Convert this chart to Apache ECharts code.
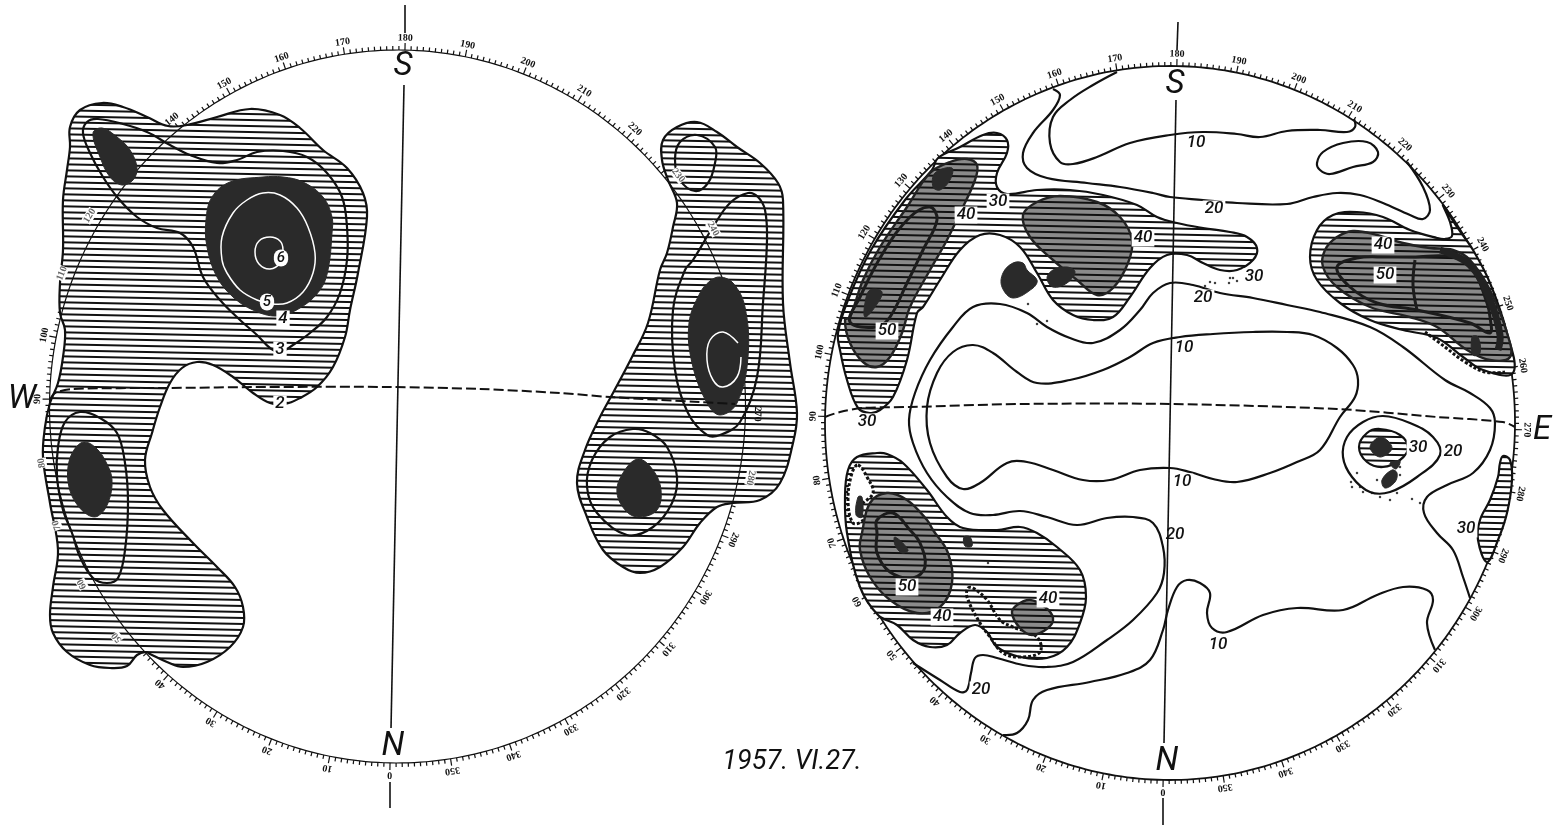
<!DOCTYPE html>
<html>
<head>
<meta charset="utf-8">
<title>1957. VI.27.</title>
<style>
  html, body { margin: 0; padding: 0; background: #fff; }
  #chart { width: 1562px; height: 826px; }
</style>
<script src="https://cdn.jsdelivr.net/npm/echarts@6/dist/echarts.min.js"></script>
</head>
<body>
<div id="chart"></div>
<script>

// left disc
const leftOuter = [[70,127],[80,110],[102,103],[123,107],[147,117],[168,126],[187,125],[217,117],[250,109],[280,115],[300,128],[323,150],[347,168],[363,193],[367,217],[358,273],[350,310],[345,337],[333,367],[317,387],[300,398],[285,404],[270,403],[253,393],[233,377],[213,365],[197,362],[182,368],[170,383],[160,407],[152,433],[145,460],[150,487],[163,510],[193,543],[217,567],[235,587],[243,607],[243,627],[230,647],[207,662],[183,667],[167,662],[150,654],[146,652],[137,655],[127,666],[110,668],[90,665],[67,652],[53,633],[50,615],[53,587],[58,550],[50,503],[43,457],[45,427],[50,403],[58,383],[63,357],[65,330],[60,313],[60,283],[63,250],[63,200],[67,170],[70,147]];
const leftLevel3 = [[87,122],[98,119],[123,124],[147,132],[170,145],[190,155],[217,163],[237,160],[257,152],[283,151],[307,157],[327,173],[342,197],[347,227],[347,260],[340,293],[327,317],[310,333],[293,345],[280,352],[270,348],[257,335],[240,320],[220,300],[203,277],[193,247],[180,233],[157,228],[137,217],[118,198],[103,177],[90,153],[83,133]];
const leftBlobTop = [[93,133],[102,128],[117,137],[130,150],[137,168],[133,180],[122,185],[110,177],[100,157]];
const leftBlobMain = [[263,177],[230,182],[212,197],[206,220],[207,247],[217,277],[233,297],[253,310],[277,316],[300,308],[320,290],[328,270],[332,233],[332,217],[323,197],[303,182],[283,177]];
const leftLevel5 = [[263,193],[247,200],[233,213],[222,237],[222,260],[227,273],[240,290],[257,300],[272,304],[287,303],[303,292],[313,273],[315,253],[308,227],[297,208],[280,195]];
const leftLevel6 = [[270,237],[259,241],[255,252],[259,264],[270,269],[280,263],[283,250],[280,241]];
const leftLowOval = [[80,412],[65,422],[58,447],[57,477],[63,510],[72,533],[80,557],[93,578],[107,583],[118,578],[125,550],[128,503],[125,463],[117,433],[100,418]];
const leftLowBlob = [[84,442],[74,450],[68,467],[69,487],[76,503],[88,515],[98,516],[108,503],[112,480],[106,462],[96,448]];
const rightOuter = [[697,122],[677,127],[663,140],[662,160],[668,180],[677,203],[673,227],[667,253],[660,270],[648,323],[632,357],[613,393],[600,417],[585,450],[577,483],[587,517],[603,550],[623,567],[640,573],[660,567],[683,547],[700,523],[717,507],[733,503],[760,500],[780,483],[793,443],[797,413],[790,363],[783,303],[783,200],[778,183],[760,163],[737,147],[717,132]];
const rightSmallOval = [[697,135],[680,142],[675,160],[680,180],[695,191],[708,183],[715,163],[715,147]];
const rightBigOval = [[748,193],[730,203],[713,227],[693,260],[685,270],[673,310],[675,370],[688,413],[707,435],[720,435],[740,422],[757,377],[763,303],[767,240],[765,210],[758,197]];
const rightBlob = [[720,277],[710,281],[700,293],[689,323],[692,363],[707,403],[720,415],[737,403],[748,357],[745,307],[733,283]];
const rightWhite = [[738,343],[723,332],[710,340],[707,360],[713,380],[723,387],[737,377],[741,357]];
const rightRing = [[633,429],[610,437],[592,460],[587,487],[597,513],[627,535],[653,527],[672,503],[677,477],[667,447],[650,433]];
const rightRingBlob = [[638,459],[623,473],[617,493],[627,512],[640,517],[657,510],[661,490],[653,470]];
const leftEquator = [[50,400],[55,393],[73,389],[167,388],[267,387],[390,387],[480,389],[560,393],[610,397],[700,402],[735,404]];

// right disc
const northBand = [[938,158],[960,147],[983,135],[997,133],[1007,140],[1007,153],[997,173],[997,187],[1007,194],[1037,190],[1070,190],[1103,195],[1137,205],[1157,217],[1177,223],[1203,228],[1230,232],[1247,237],[1257,248],[1253,260],[1237,270],[1220,270],[1203,263],[1187,255],[1167,255],[1150,268],[1130,297],[1113,317],[1093,320],[1073,315],[1053,300],[1037,273],[1020,247],[1000,235],[980,235],[960,250],[940,280],[923,307],[917,313],[907,360],[893,397],[880,410],[870,413],[858,408],[847,380],[840,350],[838,333],[848,300],[871,250],[905,200],[932,170]];
const limbGray = [[967,159],[977,165],[975,180],[960,213],[947,240],[930,270],[910,307],[902,333],[890,357],[877,367],[863,362],[850,343],[845,320],[850,317],[863,280],[880,247],[907,207],[930,173],[950,162]];
const limbInner = [[850,322],[860,297],[883,253],[910,217],[930,207],[937,220],[923,250],[907,283],[890,317],[877,327]];
const limbSpotA = [[935,173],[952,168],[950,180],[940,190],[933,187]];
const limbSpotB = [[870,290],[882,292],[875,307],[865,317],[865,303]];
const centreGray = [[1060,196],[1037,202],[1023,215],[1030,237],[1053,260],[1077,280],[1097,295],[1113,288],[1128,263],[1132,240],[1120,217],[1097,202]];
const spotA = [[1013,263],[1003,273],[1002,287],[1013,298],[1033,288],[1037,280],[1027,270],[1023,263]];
const spotB = [[1053,270],[1067,267],[1075,272],[1067,283],[1053,287],[1047,278]];
const topLine20 = [[1053,89],[1060,95],[1053,110],[1033,133],[1023,153],[1027,168],[1047,178],[1087,183],[1120,187],[1153,193],[1170,197],[1203,200],[1237,203],[1287,204],[1313,197],[1337,193],[1360,195],[1383,203],[1410,215],[1423,219],[1430,210],[1423,187],[1407,162]];
const topLine10 = [[1117,72],[1093,85],[1070,100],[1053,117],[1050,143],[1060,162],[1073,164],[1097,157],[1130,143],[1170,135],[1203,132],[1237,134],[1260,137],[1287,131],[1320,130],[1347,132],[1355,127],[1354,119]];
const topOval = [[1317,163],[1323,152],[1343,143],[1367,142],[1378,152],[1373,162],[1353,167],[1330,174],[1320,170]];
const mainLine20 = [[1470,598],[1463,577],[1453,550],[1437,533],[1424,513],[1427,497],[1447,485],[1473,473],[1490,450],[1495,423],[1490,408],[1470,393],[1445,380],[1403,347],[1370,327],[1320,312],[1287,305],[1253,298],[1220,293],[1193,285],[1170,283],[1153,293],[1140,310],[1120,330],[1093,343],[1070,338],[1047,327],[1027,313],[1000,304],[973,307],[953,327],[930,360],[915,393],[909,420],[913,443],[927,473],[947,497],[970,513],[993,515],[1020,511],[1047,517],[1077,525],[1107,518],[1133,517],[1153,523],[1163,547],[1164,573],[1157,593],[1133,620],[1107,640],[1073,662],[1047,667],[1023,665],[997,658],[983,655],[975,658],[971,673],[967,690],[960,692],[940,680],[913,663]];
const lowLine = [[1435,650],[1427,623],[1433,600],[1427,590],[1403,587],[1377,595],[1343,610],[1297,608],[1263,615],[1227,632],[1212,628],[1207,613],[1210,593],[1200,583],[1187,580],[1177,587],[1168,610],[1163,630],[1150,660],[1127,673],[1090,682],[1047,690],[1033,700],[1028,720],[1017,733],[1003,735]];
const centreLine10 = [[1180,337],[1153,343],[1130,357],[1103,370],[1070,380],[1037,383],[1017,372],[993,353],[973,345],[953,352],[937,373],[927,407],[930,443],[947,477],[963,489],[980,483],[1007,463],[1027,462],[1053,470],[1083,480],[1110,480],[1140,470],[1170,468],[1190,472],[1213,479],[1237,482],[1270,473],[1297,462],[1320,450],[1340,417],[1355,397],[1358,380],[1353,365],[1337,348],[1313,335],[1287,332],[1253,332],[1213,334]];
const eastRing = [[1383,416],[1363,422],[1347,437],[1343,457],[1352,477],[1370,492],[1390,492],[1417,477],[1440,455],[1433,437],[1410,423]];
const eastHatch = [[1380,429],[1367,433],[1359,447],[1367,462],[1383,467],[1400,460],[1408,448],[1400,435]];
const eastGray = [[1381,437],[1370,447],[1380,457],[1392,448]];
const eastSpot = [[1392,470],[1382,480],[1385,488],[1395,482],[1397,473]];
const eastSpotSmall = [[1390,463],[1400,461],[1396,469]];
const eastBand = [[1357,212],[1333,215],[1317,230],[1310,257],[1317,280],[1340,303],[1370,320],[1403,330],[1437,338],[1463,357],[1483,370],[1513,373],[1507,333],[1490,283],[1473,250],[1457,227],[1443,205],[1450,222],[1452,236],[1445,239],[1437,238],[1410,230],[1383,217]];
const eastGrayBand = [[1353,231],[1337,237],[1325,250],[1323,267],[1337,287],[1370,307],[1410,317],[1437,327],[1467,350],[1490,360],[1510,357],[1507,333],[1490,290],[1470,260],[1453,250],[1430,248],[1403,243],[1377,235]];
const eastLevel50 = [[1490,333],[1470,323],[1417,310],[1377,303],[1350,287],[1337,267],[1357,258],[1387,257],[1413,257],[1453,257],[1473,270],[1487,303],[1490,317]];
const eastDivide = [[1415,260],[1413,285],[1417,310]];
const eastEdge = [[1440,250],[1470,265],[1490,300],[1500,335],[1498,350]];
const eastFringe = [[1425,332],[1445,347],[1465,362],[1485,372],[1505,372]];
const eastLimbSpot = [[1472,337],[1478,337],[1480,353],[1473,355]];
const limbSliver = [[1503,456],[1500,463],[1498,477],[1490,500],[1480,520],[1478,540],[1487,562],[1498,540],[1507,513],[1512,480],[1510,460]];
const southRegion = [[877,453],[857,457],[848,470],[845,497],[847,533],[860,587],[878,615],[897,625],[913,640],[930,647],[947,645],[960,633],[975,625],[987,632],[997,647],[1020,657],[1047,658],[1067,647],[1080,623],[1086,597],[1080,570],[1057,547],[1037,533],[1020,527],[997,530],[963,528],[947,517],[927,490],[903,463],[887,454]];
const southPatch = [[858,465],[867,477],[873,493],[860,507],[863,520],[853,523],[848,500],[852,473]];
const southPatchSpot = [[858,497],[862,497],[862,517],[856,515]];
const southGray = [[887,493],[870,503],[862,533],[860,550],[870,577],[890,600],[917,613],[940,607],[952,583],[948,553],[933,530],[927,520],[907,500]];
const southInner = [[877,533],[877,553],[890,572],[913,578],[925,567],[920,543],[910,530],[893,513],[877,520]];
const southSpot = [[895,537],[908,550],[902,553],[895,545]];
const southDot = [[964,537],[970,537],[972,546],[965,546]];
const southStrip = [[968,588],[973,588],[987,600],[1000,620],[1013,627],[1037,637],[1040,652],[1020,657],[1003,653],[990,637],[980,623],[967,597]];
const southSmallGray = [[1030,600],[1017,605],[1012,613],[1020,628],[1032,635],[1048,628],[1053,618],[1045,607]];
const rightEquator = [[825,417],[840,412],[863,408],[910,407],[1020,404],[1170,404],[1337,409],[1437,417],[1503,422],[1515,427]];
const speckles = [[1357,473],[1351,482],[1352,487],[1360,487],[1363,492],[1372,493],[1380,497],[1390,500],[1397,493],[1377,480],[1400,475],[1412,499],[1420,503],[1400,467],[1205,286],[1210,282],[1215,283],[1230,278],[1233,278],[1237,281],[1229,283],[1028,304],[1047,321],[1037,324],[988,563]];

// meridian pieces
const leftMeridian = [[[405,5],[405,33]],[[404,85],[391,728]],[[390,782],[390,808]]];
const rightMeridian = [[[1178,22],[1177,50]],[[1176,100],[1164,743]],[[1163,798],[1163,825]]];

// rim scale
const rimLabels = [0,10,20,30,40,50,60,70,80,90,100,110,120,130,140,150,160,170,180,190,200,210,220,230,240,250,260,270,280,290,300,310,320,330,340,350];
const leftFaintLabels = [50,60,70,80,110,120,230,240,280];
const leftNoLabels = [130,250,260];
const rimDegrees = [];
for (let d = 0; d < 360; d++) rimDegrees.push(d);

// hand lettering
const compassLabels = [[403,67,'S'],[393,747,'N'],[22,400,'W'],[1175,85,'S'],[1167,762,'N'],[1542,431,'E']];
const leftLevelLabels = [[280,404,'2'],[280,350,'3'],[283,319,'4']];
const leftWhiteLabels = [[267,302,'5'],[281,258,'6']];
const rightLevelLabels = [[1196,143,'10'],[1214,209,'20'],[998,202,'30'],[966,215,'40'],[1143,238,'40'],[1254,277,'30'],[1203,298,'20'],[1184,348,'10'],[1383,245,'40'],[1385,275,'50'],[887,331,'50'],[867,422,'30'],[1182,482,'10'],[1175,535,'20'],[1418,448,'30'],[1453,452,'20'],[1466,529,'30'],[1218,645,'10'],[1048,599,'40'],[907,587,'50'],[942,617,'40'],[981,690,'20']];
const dateLabel = [[792,762,'1957. VI.27.']];

const leftDisc = { cx: 397.5, cy: 406.5, rx: 348, ry: 356.5, tilt: 1.2 };
const rightDisc = { cx: 1170, cy: 423, rx: 345, ry: 357, tilt: 1.1 };

function stripes(h, line, lineH) {
    let c = document.createElement('canvas');
    c.width = 64; c.height = h;
    let g = c.getContext('2d');
    g.fillStyle = line; g.fillRect(0, 0, 64, lineH);
    return { image: c, repeat: 'repeat', rotation: 0.02 };
}
const hatch = stripes(6, '#111', 2);

const INK = '#111';
const DARK = '#2a2a2a';
const kinds = {
    ground: { fill: '#fff', stroke: null, lineWidth: 0 },
    hatchLines: { fill: hatch, stroke: INK, lineWidth: 2.2 },
    gray: { fill: '#8a8a8a', stroke: null, lineWidth: 0 },
    grayLines: { fill: hatch, stroke: '#222', lineWidth: 2.4 },
    dark: { fill: DARK, stroke: DARK, lineWidth: 1 },
    line: { fill: null, stroke: INK, lineWidth: 2.2 },
    thick: { fill: null, stroke: '#1c1c1c', lineWidth: 3 },
    edge: { fill: null, stroke: '#222', lineWidth: 7 },
    whiteLine: { fill: null, stroke: '#fff', lineWidth: 1.5 },
    scallop: { fill: null, stroke: INK, lineWidth: 3, lineDash: [3, 2] },
    patch: { fill: '#fff', stroke: INK, lineWidth: 3, lineDash: [3, 2] },
    dash: { fill: null, stroke: INK, lineWidth: 2, lineDash: [10, 4], smooth: 0.3 }
};

function shape(points, kind, open) {
    return {
        type: 'custom', coordinateSystem: 'cartesian2d', clip: false, silent: true,
        data: points,
        renderItem: function (params, api) {
            if (params.dataIndex !== 0) return null;
            let style = Object.assign({}, kinds[kind]);
            let smooth = style.smooth === undefined ? 0.38 : style.smooth;
            delete style.smooth;
            return {
                type: open ? 'polyline' : 'polygon',
                shape: { points: points.map(function (p) { return api.coord(p); }), smooth: smooth },
                style: style
            };
        }
    };
}

// two layers: a ground, then the stripes on top of it
function hatched(points) { return [shape(points, 'ground'), shape(points, 'hatchLines')]; }
function shaded(points) { return [shape(points, 'gray'), shape(points, 'grayLines')]; }

function rimPoint(disc, deg, out) {
    let a = deg * Math.PI / 180, t = disc.tilt * Math.PI / 180;
    let u = -Math.sin(a) * (disc.rx + out), v = Math.cos(a) * (disc.ry + out);
    return [disc.cx + u * Math.cos(t) - v * Math.sin(t), disc.cy + u * Math.sin(t) + v * Math.cos(t)];
}

function rimTicks(disc) {
    return {
        type: 'custom', coordinateSystem: 'cartesian2d', clip: false, silent: true,
        data: rimDegrees.map(function (d) { return [disc.cx, disc.cy, d]; }),
        renderItem: function (params, api) {
            let d = api.value(2);
            let a = api.coord(rimPoint(disc, d, 0));
            let b = api.coord(rimPoint(disc, d, d % 10 === 0 ? 7 : 4));
            return { type: 'line', shape: { x1: a[0], y1: a[1], x2: b[0], y2: b[1] }, style: { stroke: INK, lineWidth: 1.2 } };
        }
    };
}

function rimLine(disc, width) {
    let pts = rimDegrees.map(function (d) { return rimPoint(disc, d, 0); });
    return {
        type: 'custom', coordinateSystem: 'cartesian2d', clip: false, silent: true,
        data: pts,
        renderItem: function (params, api) {
            if (params.dataIndex !== 0) return null;
            return {
                type: 'polygon',
                shape: { points: pts.map(function (p) { return api.coord(p); }) },
                style: { fill: null, stroke: INK, lineWidth: width }
            };
        }
    };
}

function rimText(disc, faint, skip) {
    let shown = rimLabels.filter(function (d) { return skip.indexOf(d) < 0; });
    return {
        type: 'custom', coordinateSystem: 'cartesian2d', clip: false, silent: true,
        data: shown.map(function (d) { return [disc.cx, disc.cy, d]; }),
        renderItem: function (params, api) {
            let d = api.value(2);
            let p = api.coord(rimPoint(disc, d, 12));
            let isFaint = faint.indexOf(d) >= 0;
            return {
                type: 'text', x: p[0], y: p[1],
                rotation: -(d - 180 + disc.tilt) * Math.PI / 180,
                style: {
                    text: String(d), font: 'bold 10px "Liberation Serif"',
                    fill: isFaint ? '#666' : '#111', align: 'center', verticalAlign: 'middle',
                    backgroundColor: isFaint ? '#fff' : 'transparent'
                }
            };
        }
    };
}

function letters(rows, font, fill, back, padding, radius) {
    return {
        type: 'custom', coordinateSystem: 'cartesian2d', clip: false, silent: true,
        data: rows,
        renderItem: function (params, api) {
            let row = rows[params.dataIndex];
            let p = api.coord([row[0], row[1]]);
            return {
                type: 'text', x: p[0], y: p[1],
                style: {
                    text: row[2], font: font, fill: fill, align: 'center', verticalAlign: 'middle',
                    backgroundColor: back, padding: padding, borderRadius: radius || 0
                }
            };
        }
    };
}

let seriesData = [
    rimTicks(leftDisc),
    rimTicks(rightDisc),
    ...hatched(leftOuter),
    ...hatched(rightOuter),
    rimLine(leftDisc, 1.2),
    rimLine(rightDisc, 1.8),
    shape(leftLevel3, 'line'),
    shape(leftBlobTop, 'dark'),
    shape(leftBlobMain, 'dark'),
    shape(leftLevel5, 'whiteLine'),
    shape(leftLevel6, 'whiteLine'),
    shape(leftLowOval, 'line'),
    shape(leftLowBlob, 'dark'),
    shape(rightSmallOval, 'line'),
    shape(rightBigOval, 'line'),
    shape(rightBlob, 'dark'),
    shape(rightWhite, 'whiteLine', true),
    shape(rightRing, 'line'),
    shape(rightRingBlob, 'dark'),
    shape(leftEquator, 'dash', true),

    shape(topLine20, 'line', true),
    shape(topLine10, 'line', true),
    shape(topOval, 'line'),
    shape(mainLine20, 'line', true),
    shape(lowLine, 'line', true),
    shape(centreLine10, 'line'),
    ...hatched(northBand),
    ...shaded(limbGray),
    shape(limbInner, 'thick'),
    shape(limbSpotA, 'dark'),
    shape(limbSpotB, 'dark'),
    ...shaded(centreGray),
    shape(spotA, 'dark'),
    shape(spotB, 'dark'),
    shape(eastRing, 'line'),
    ...hatched(eastHatch),
    shape(eastGray, 'dark'),
    shape(eastSpot, 'dark'),
    shape(eastSpotSmall, 'dark'),
    ...hatched(eastBand),
    ...shaded(eastGrayBand),
    shape(eastLevel50, 'thick'),
    shape(eastDivide, 'thick', true),
    shape(eastEdge, 'edge', true),
    shape(eastFringe, 'scallop', true),
    shape(eastLimbSpot, 'dark'),
    ...hatched(limbSliver),
    ...hatched(southRegion),
    shape(southPatch, 'patch'),
    shape(southPatchSpot, 'dark'),
    ...shaded(southGray),
    shape(southInner, 'thick'),
    shape(southSpot, 'dark'),
    shape(southDot, 'dark'),
    shape(southStrip, 'scallop'),
    ...shaded(southSmallGray),
    shape(rightEquator, 'dash', true),
    { type: 'scatter', data: speckles, symbolSize: 2.5, itemStyle: { color: INK }, silent: true },
    rimText(leftDisc, leftFaintLabels, leftNoLabels),
    rimText(rightDisc, [], [])
];

leftMeridian.concat(rightMeridian).forEach(function (piece) {
    seriesData.push({
        type: 'line', data: piece, symbol: 'none', silent: true,
        lineStyle: { color: INK, width: 1.6 }
    });
});

seriesData.push(letters(compassLabels, 'italic 400 33px Roboto', INK, 'transparent', 0));
seriesData.push(letters(leftLevelLabels, 'italic 500 17px Roboto', INK, '#fff', [0, 2]));
seriesData.push(letters(leftWhiteLabels, 'italic 500 15px Roboto', INK, '#fff', [1, 3], 8));
seriesData.push(letters(rightLevelLabels, 'italic 500 17px Roboto', INK, '#fff', [0, 2]));
seriesData.push(letters(dateLabel, 'italic 400 27px Roboto', INK, 'transparent', 0));

let myChart = echarts.init(document.getElementById('chart'), null, { renderer: 'canvas' });
myChart.setOption({
    animation: false,
    backgroundColor: '#fff',
    grid: { left: 0, right: 0, top: 0, bottom: 0 },
    xAxis: { type: 'value', min: 0, max: 1562, show: false },
    yAxis: { type: 'value', min: 0, max: 826, inverse: true, show: false },
    series: seriesData
});
</script>
</body>
</html>
